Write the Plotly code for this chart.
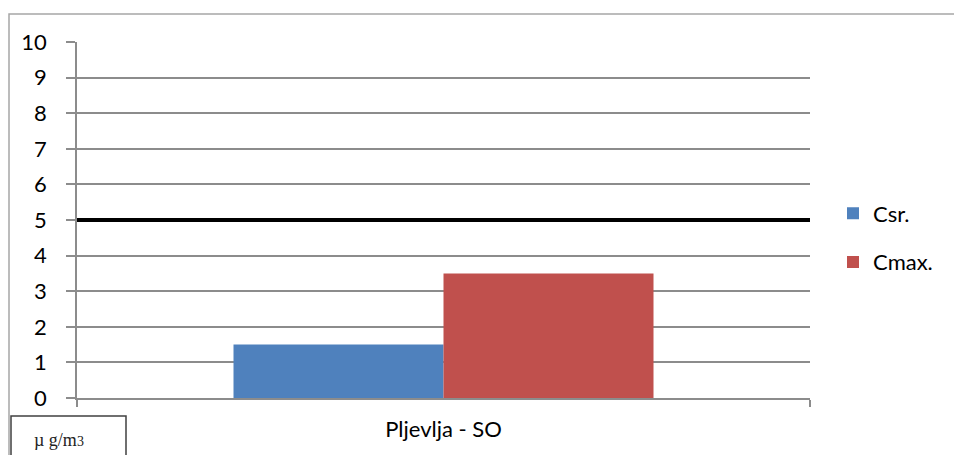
import plotly.graph_objects as go

# Measurement station and concentrations (µg/m3)
categories = ["Pljevlja - SO"]
series_names = ["Csr.", "Cmax."]
csr_values = [1.5]
cmax_values = [3.5]
limit_value = 5
y_ticks = list(range(0, 11))

colors = ["#4f81bd", "#c0504d"]
grid = "#8c8c8c"
font_family = "Lato, Carlito, Calibri, sans-serif"

fig = go.Figure()
for name, vals, col in zip(series_names, [csr_values, cmax_values], colors):
    fig.add_trace(go.Bar(x=categories, y=vals, name=name, legendgroup=name,
                         marker=dict(color=col, line=dict(width=0))))

W, H = 954, 455
L, R, T, B = 77, 144, 42, 57
pw, ph = W - L - R, H - T - B


def px(x):
    return (x - L) / pw


def py(y):
    return (H - B - y) / ph


shapes = [
    # limit value line
    dict(type="line", xref="paper", yref="y", x0=0, x1=1,
         y0=limit_value, y1=limit_value, line=dict(color="black", width=4)),
    # outer chart frame
    dict(type="rect", xref="paper", yref="paper", x0=px(9), x1=px(1100),
         y0=py(600), y1=py(14), line=dict(color="#a6a6a6", width=1.5),
         layer="below"),
    # unit box
    dict(type="rect", xref="paper", yref="paper", x0=px(11), x1=px(126),
         y0=py(600), y1=py(416), line=dict(color="#404040", width=1.5)),
]

annotations = [
    dict(xref="paper", yref="paper", x=px(59), y=py(440),
         text="µ g/m<span style='font-size:14px'>3</span>", showarrow=False,
         font=dict(family="Liberation Serif, Times New Roman, serif",
                   size=18, color="#222"),
         xanchor="center", yanchor="middle"),
]

fig.update_layout(
    width=W, height=H,
    margin=dict(l=L, r=R, t=T, b=B, pad=0, autoexpand=False),
    paper_bgcolor="white", plot_bgcolor="white",
    font=dict(family=font_family, size=22, color="black"),
    barmode="group", bargap=0.427, bargroupgap=0,
    showlegend=True,
    legend=dict(xref="container", yref="container",
                x=833 / W, y=1 - 238 / H, xanchor="left", yanchor="middle",
                font=dict(size=22), bgcolor="rgba(0,0,0,0)",
                tracegroupgap=17, itemwidth=30),
    xaxis=dict(type="category", range=[-0.5, 0.5], showline=True,
               linecolor=grid, linewidth=1.5, ticks="outside",
               tickson="boundaries", ticklen=7, tickcolor=grid,
               tickwidth=1.5, showgrid=False, ticklabelstandoff=11),
    yaxis=dict(range=[0, 10], tickvals=y_ticks, showline=True,
               linecolor=grid, linewidth=1.5, ticks="outside", ticklen=9,
               tickcolor=grid, tickwidth=1.5, showgrid=True, gridcolor=grid,
               gridwidth=1.5, zeroline=False, ticklabelstandoff=15),
    shapes=shapes,
    annotations=annotations,
)

fig.write_html("out.html")
